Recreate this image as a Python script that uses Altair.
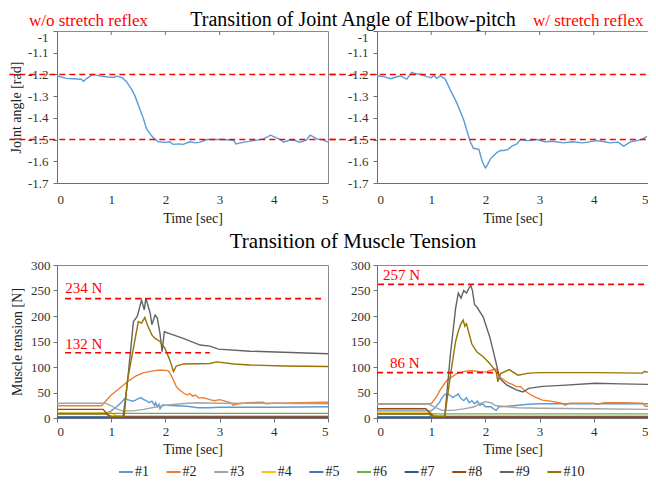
import altair as alt
import pandas as pd

FONT = "Liberation Serif"

# ---------------- Joint angle (rad) ----------------
ja_wo_t = [0, 0.18, 0.3, 0.45, 0.49, 0.55, 0.67, 0.8, 0.95, 1.05, 1.1, 1.2, 1.28, 1.38, 1.44, 1.53, 1.59, 1.65,
           1.71, 1.77, 1.87, 2.0, 2.08, 2.14, 2.25, 2.33, 2.45, 2.55, 2.64, 2.77, 2.9, 3.05, 3.2, 3.26, 3.3, 3.45,
           3.63, 3.8, 3.94, 4.05, 4.12, 4.18, 4.3, 4.4, 4.48, 4.6, 4.67, 4.75, 4.8, 4.9, 5.0]
ja_wo_v = [-1.207, -1.218, -1.22, -1.222, -1.232, -1.218, -1.2, -1.208, -1.212, -1.214, -1.208, -1.215, -1.232,
           -1.27, -1.3, -1.36, -1.4, -1.45, -1.47, -1.49, -1.51, -1.513, -1.51, -1.522, -1.52, -1.522, -1.51,
           -1.515, -1.512, -1.5, -1.5, -1.5, -1.502, -1.504, -1.52, -1.512, -1.505, -1.498, -1.48, -1.492, -1.5,
           -1.512, -1.502, -1.505, -1.512, -1.503, -1.48, -1.49, -1.498, -1.5, -1.512]

ja_w_t = [0, 0.12, 0.25, 0.35, 0.43, 0.55, 0.64, 0.7, 0.8, 0.92, 1.0, 1.05, 1.1, 1.17, 1.26, 1.35, 1.47, 1.6,
          1.72, 1.78, 1.88, 1.94, 2.0, 2.03, 2.09, 2.15, 2.21, 2.28, 2.34, 2.42, 2.49, 2.58, 2.65, 2.75, 2.83,
          2.95, 3.1, 3.25, 3.44, 3.6, 3.8, 4.06, 4.2, 4.3, 4.45, 4.55, 4.62, 4.68, 4.8, 4.9, 4.98]
ja_w_v = [-1.207, -1.21, -1.22, -1.212, -1.207, -1.222, -1.19, -1.196, -1.2, -1.21, -1.215, -1.205, -1.218,
          -1.207, -1.222, -1.27, -1.33, -1.41, -1.51, -1.54, -1.545, -1.6, -1.63, -1.62, -1.59, -1.575, -1.56,
          -1.55, -1.55, -1.545, -1.53, -1.52, -1.5, -1.505, -1.505, -1.5, -1.51, -1.508, -1.515, -1.51, -1.515,
          -1.505, -1.51, -1.515, -1.512, -1.53, -1.52, -1.51, -1.505, -1.498, -1.485]

ja_ref_y = [-1.2, -1.5]
ja_ref_wo_x = [-0.88, 5.22]
ja_ref_w_x = [-0.87, 5.0]
angle_ticks = [-1.7, -1.6, -1.5, -1.4, -1.3, -1.2, -1.1, -1.0]
time_ticks = [0, 1, 2, 3, 4, 5]
top_ticks = [1, 2, 3, 4]

# ---------------- Muscle tension (N), w/o stretch reflex ----------------
wo_1 = [(0, 9), (0.9, 9), (1.0, 14), (1.1, 22), (1.2, 32), (1.25, 38), (1.3, 36), (1.4, 33), (1.45, 35),
        (1.5, 38), (1.55, 40), (1.6, 36), (1.65, 34), (1.7, 30), (1.75, 33), (1.8, 25), (1.82, 30), (1.85, 22),
        (1.88, 27), (1.9, 18), (1.95, 26), (2.0, 25), (2.2, 24), (2.4, 23), (2.6, 20), (2.8, 20), (3.0, 21),
        (4.0, 21), (5.0, 22)]
wo_2 = [(0, 24), (0.82, 24), (1.0, 45), (1.15, 58), (1.3, 71), (1.45, 82), (1.6, 89), (1.75, 92), (1.9, 94),
        (2.05, 93), (2.1, 85), (2.15, 74), (2.2, 62), (2.25, 56), (2.3, 52), (2.35, 48), (2.4, 45), (2.45, 48),
        (2.5, 43), (2.55, 45), (2.62, 39), (2.7, 40), (2.82, 36), (2.9, 34), (3.0, 36), (3.1, 33), (3.2, 30),
        (3.25, 25), (3.3, 27), (3.5, 30), (3.8, 31), (3.85, 28), (4.0, 29), (4.5, 30), (5.0, 31)]
wo_3 = [(0, 29), (0.9, 29), (1.0, 24), (1.1, 18), (1.2, 14), (1.4, 14), (1.6, 17), (1.8, 21), (2.0, 25),
        (2.2, 27), (2.4, 29), (2.6, 30), (3.0, 29), (4.0, 29), (5.0, 28)]
wo_4 = [(0, 10), (1.0, 10), (1.1, 4), (5.0, 4)]
wo_5 = [(0, 1), (5.0, 1)]
wo_6 = [(0, 9), (1.0, 9), (1.3, 9), (5.0, 9)]
wo_7 = [(0, 2), (5.0, 2)]
wo_8 = [(0, 17), (0.85, 17), (0.98, 2), (5.0, 2)]
wo_9 = [(0, 8), (0.9, 8), (1.0, 3), (1.22, 3), (1.3, 70), (1.41, 189), (1.48, 199), (1.56, 231), (1.61, 212),
        (1.64, 235), (1.72, 205), (1.75, 183), (1.81, 202), (1.85, 196), (1.9, 166), (1.94, 130), (1.98, 169),
        (2.09, 165), (2.33, 156), (2.64, 143), (2.82, 141), (2.98, 135), (3.56, 131), (3.9, 130), (5.0, 126)]
wo_10 = [(0, 8), (0.9, 8), (1.0, 3), (1.24, 3), (1.3, 74), (1.41, 137), (1.5, 189), (1.56, 186), (1.62, 197),
         (1.67, 182), (1.75, 163), (1.81, 156), (1.9, 150), (1.99, 137), (2.08, 114), (2.15, 91), (2.2, 102),
         (2.33, 106), (2.82, 107), (2.95, 110), (3.26, 106), (3.56, 104), (4.2, 102), (5.0, 101)]

# ---------------- Muscle tension (N), w/ stretch reflex ----------------
w_1 = [(0, 14), (1.0, 14), (1.05, 18), (1.15, 30), (1.2, 40), (1.25, 46), (1.3, 48), (1.35, 44), (1.4, 40),
       (1.45, 44), (1.5, 47), (1.55, 38), (1.6, 34), (1.65, 40), (1.7, 30), (1.75, 34), (1.8, 28), (1.85, 33),
       (1.9, 25), (1.95, 28), (2.0, 22), (2.1, 22), (2.15, 18), (2.2, 15), (2.25, 22), (2.4, 23), (2.6, 25),
       (2.8, 27), (3.0, 28), (4.0, 28), (5.0, 28)]
w_2 = [(0, 28), (1.0, 28), (1.1, 42), (1.16, 54), (1.29, 74), (1.47, 87), (1.6, 91), (1.72, 93), (1.9, 91),
       (2.0, 90), (2.15, 95), (2.2, 96), (2.26, 81), (2.35, 74), (2.44, 68), (2.5, 66), (2.57, 61), (2.65, 62),
       (2.72, 54), (2.8, 48), (2.9, 42), (3.05, 35), (3.2, 33), (3.41, 29), (3.47, 25), (3.55, 29), (3.8, 29),
       (4.0, 29), (4.05, 27), (4.2, 30), (4.5, 30), (4.9, 29), (4.95, 23), (5.0, 23)]
w_3 = [(0, 27), (0.95, 27), (1.05, 22), (1.2, 15), (1.4, 15), (1.6, 18), (1.8, 22), (1.9, 28), (2.0, 32),
       (2.1, 30), (2.2, 24), (2.4, 22), (2.6, 20), (3.0, 19), (4.0, 18), (5.0, 17)]
w_4 = [(0, 10), (1.0, 10), (1.1, 4), (5.0, 4)]
w_5 = [(0, 1), (5.0, 1)]
w_6 = [(0, 8), (1.0, 8), (5.0, 8)]
w_7 = [(0, 2), (5.0, 2)]
w_8 = [(0, 18), (0.9, 18), (1.05, 2), (5.0, 2)]
w_9 = [(0, 8), (0.95, 8), (1.05, 3), (1.25, 3), (1.35, 120), (1.45, 215), (1.5, 245), (1.55, 235), (1.6, 250),
       (1.65, 245), (1.7, 255), (1.73, 260), (1.76, 250), (1.8, 222), (1.84, 218), (1.96, 198), (2.08, 159),
       (2.14, 133), (2.2, 107), (2.26, 78), (2.39, 65), (2.57, 55), (2.69, 51), (2.8, 58), (3.05, 62),
       (3.41, 64), (4.03, 68), (4.5, 67), (5.0, 66)]
w_10 = [(0, 8), (0.95, 8), (1.05, 3), (1.25, 3), (1.35, 80), (1.45, 150), (1.5, 170), (1.55, 185), (1.59, 192),
        (1.62, 180), (1.65, 185), (1.7, 165), (1.75, 145), (1.84, 130), (1.96, 120), (2.08, 107), (2.2, 90),
        (2.23, 71), (2.28, 87), (2.44, 95), (2.6, 84), (2.8, 88), (3.0, 89), (4.0, 89), (4.9, 88), (4.93, 91),
        (5.0, 90)]

tension_ticks = [0, 50, 100, 150, 200, 250, 300]

# reference (red dashed) lines: start time, end time, level
wo_ref_x = [0.15, 0.15]
wo_ref_x2 = [4.95, 2.82]
wo_ref_y = [234, 128]
wo_lbl_t = [0.15, 0.15]
wo_lbl_v = [245, 135]
wo_lbl = ["234 N", "132 N"]

w_ref_x = [0.02, 0.0]
w_ref_x2 = [4.95, 2.25]
w_ref_y = [262, 89]
w_lbl_t = [0.11, 0.24]
w_lbl_v = [270, 98]
w_lbl = ["257 N", "86 N"]

series_names = ["#1", "#2", "#3", "#4", "#5", "#6", "#7", "#8", "#9", "#10"]
colors = ["#5B9BD5", "#ED7D31", "#A5A5A5", "#FFC000", "#4472C4",
          "#70AD47", "#255E91", "#9E480E", "#636363", "#997300"]

wo_series = [wo_1, wo_2, wo_3, wo_4, wo_5, wo_6, wo_7, wo_8, wo_9, wo_10]
w_series = [w_1, w_2, w_3, w_4, w_5, w_6, w_7, w_8, w_9, w_10]


def tension_df(series_list):
    rows = []
    for name, pts in zip(series_names, series_list):
        for t, v in pts:
            rows.append({"series": name, "t": t, "v": v})
    return pd.DataFrame(rows)


W, H_TOP, H_BOT = 271, 152, 153
RED = "#FF0000"
AX = "#6f6f6f"

xscale = alt.Scale(domain=[0, 5], nice=False)

axis_style = dict(labelFont=FONT, labelFontSize=13, labelColor="#333", titleFont=FONT, titleFontSize=14,
                  titleColor="#222", titleFontWeight="normal", domainColor=AX, tickColor=AX,
                  labelOverlap=False, grid=False, tickCount=20)


def angle_panel(t, v, ref_x, left, label_text, label_x):
    df = pd.DataFrame({"t": t, "v": v})
    yaxis = alt.Axis(values=angle_ticks, title="Joint angle [rad]" if left else "",
                     labelExpr="'-' + format(abs(datum.value), '.1~f')",
                     labelOffset={"condition": {"test": "datum.value > -1.05", "value": 6}, "value": 0},
                     tickSize=4, labelPadding=5, titlePadding=4, **axis_style)
    yscale = alt.Scale(domain=[-1.7, -1.0], nice=False, zero=False)
    line = alt.Chart(df).mark_line(color="#5B9BD5", strokeWidth=1.4).encode(
        x=alt.X("t:Q", scale=xscale,
                axis=alt.Axis(values=time_ticks, title="Time [sec]", format="d", ticks=False, tickSize=0,
                              labelPadding=10, titlePadding=5, **axis_style)),
        y=alt.Y("v:Q", scale=yscale, axis=yaxis),
    )
    ref = pd.DataFrame({"x": [ref_x[0]] * 2, "x2": [ref_x[1]] * 2, "y": ja_ref_y})
    rules = alt.Chart(ref).mark_rule(color=RED, strokeDash=[6, 4], strokeWidth=1.6).encode(
        x="x:Q", x2="x2:Q", y="y:Q")
    ticks = alt.Chart(pd.DataFrame({"t": top_ticks})).mark_rule(color=AX, strokeWidth=1).encode(
        x="t:Q", y=alt.value(0), y2=alt.value(4))
    lab = alt.Chart(pd.DataFrame({"s": [label_text]})).mark_text(
        font=FONT, fontSize=17, color=RED, align="left", baseline="alphabetic").encode(
        text="s:N", x=alt.value(label_x), y=alt.value(-5.5))
    layers = [line, rules, ticks, lab]
    if left:
        title = alt.Chart(pd.DataFrame({"s": ["Transition of Joint Angle of Elbow-pitch"]})).mark_text(
            font=FONT, fontSize=20, color="#000", align="center", baseline="alphabetic").encode(
            text="s:N", x=alt.value(296), y=alt.value(-5.5))
        layers.append(title)
    return alt.layer(*layers).properties(width=W, height=H_TOP)


def tension_panel(series_list, rx, rx2, ry, lt, lv, ltxt, left):
    df = tension_df(series_list)
    yaxis = alt.Axis(values=tension_ticks, title="Muscle tension [N]" if left else "",
                     tickSize=4, labelPadding=3, titlePadding=6, **axis_style)
    yscale = alt.Scale(domain=[0, 300], nice=False)
    line = alt.Chart(df).mark_line(strokeWidth=1.4).encode(
        x=alt.X("t:Q", scale=xscale,
                axis=alt.Axis(values=time_ticks, title="Time [sec]", format="d", tickSize=4,
                              labelPadding=3, titlePadding=4, **axis_style)),
        y=alt.Y("v:Q", scale=yscale, axis=yaxis),
        color=alt.Color("series:N", sort=series_names,
                        scale=alt.Scale(domain=series_names, range=colors),
                        legend=alt.Legend(orient="none", legendX=61, legendY=433, direction="horizontal",
                                          columns=10, title="", symbolType="stroke", symbolSize=196,
                                          symbolStrokeWidth=2, labelFont=FONT, labelFontSize=14,
                                          labelColor="#222", columnPadding=13.6, labelOffset=1)),
        order=alt.Order("order:Q"),
    ).transform_calculate(order="datum.t")
    ref = pd.DataFrame({"x": rx, "x2": rx2, "y": ry})
    rules = alt.Chart(ref).mark_rule(color=RED, strokeDash=[6, 4], strokeWidth=1.6).encode(
        x="x:Q", x2="x2:Q", y="y:Q")
    labs = alt.Chart(pd.DataFrame({"t": lt, "v": lv, "s": ltxt})).mark_text(
        font=FONT, fontSize=15, color=RED, align="left", baseline="alphabetic").encode(
        x="t:Q", y="v:Q", text="s:N")
    layers = [line, rules, labs]
    if left:
        title = alt.Chart(pd.DataFrame({"s": ["Transition of Muscle Tension"]})).mark_text(
            font=FONT, fontSize=21, color="#000", align="center", baseline="alphabetic").encode(
            text="s:N", x=alt.value(296), y=alt.value(-17))
        layers.append(title)
    return alt.layer(*layers).properties(width=W, height=H_BOT)


tl = angle_panel(ja_wo_t, ja_wo_v, ja_ref_wo_x, True, "w/o stretch reflex", -28)
tr = angle_panel(ja_w_t, ja_w_v, ja_ref_w_x, False, "w/ stretch reflex", 156)
bl = tension_panel(wo_series, wo_ref_x, wo_ref_x2, wo_ref_y, wo_lbl_t, wo_lbl_v, wo_lbl, True)
br = tension_panel(w_series, w_ref_x, w_ref_x2, w_ref_y, w_lbl_t, w_lbl_v, w_lbl, False)

chart = alt.concat(tl, tr, bl, br, columns=2, spacing={"row": 82, "column": 49}, bounds="flush").properties(
    autosize=alt.AutoSizeParams(type="none"),
    padding={"left": 49, "top": 23, "right": 591, "bottom": 447},
).configure_view(
    stroke="#8a8a8a", strokeWidth=1
)

chart.save("out.html", embed_options={"renderer": "svg", "actions": False})
